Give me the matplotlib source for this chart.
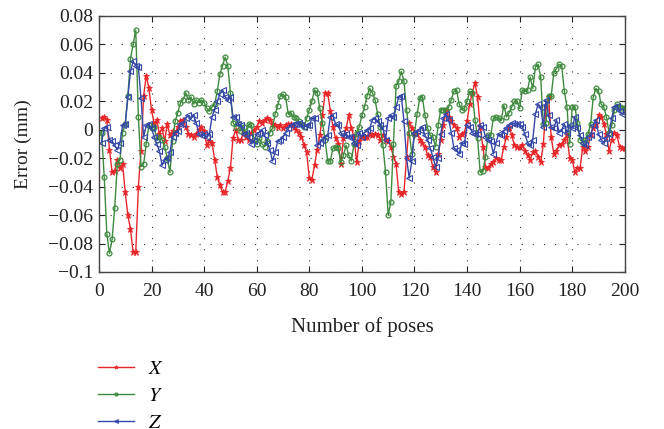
import numpy as np
import matplotlib
matplotlib.use('Agg')
import matplotlib.pyplot as plt

# pose index 1..200
poses = np.arange(1, 201)

err_x = [0.008, 0.009, 0.007, -0.014, -0.030, -0.029, -0.021, -0.027, -0.024, -0.044,
         -0.060, -0.070, -0.086, -0.086, -0.040, -0.015, 0.024, 0.038, 0.029, 0.014,
         0.004, 0.007, -0.003, 0.001, -0.008, 0.004, -0.004, -0.001, -0.002, 0.002,
         0.006, 0.007, 0.002, -0.003, -0.004, -0.005, -0.003, 0.000, 0.002, -0.001,
         -0.011, -0.008, -0.009, -0.021, -0.033, -0.039, -0.044, -0.044, -0.036, -0.027,
         -0.006, 0.000, -0.007, -0.007, -0.002, -0.005, -0.007, -0.002, 0.000, 0.002,
         0.006, 0.005, 0.007, 0.008, 0.007, 0.004, 0.003, 0.002, 0.003, 0.001,
         0.003, 0.004, 0.004, 0.002, 0.000, -0.002, -0.005, -0.011, -0.016, -0.034,
         -0.035, -0.025, -0.014, -0.004, 0.010, 0.026, 0.026, 0.013, 0.002, -0.006,
         -0.010, -0.024, -0.006, 0.001, 0.010, 0.001, -0.005, -0.023, -0.008, -0.005,
         -0.005, -0.005, -0.003, -0.004, -0.003, -0.004, -0.007, -0.004, -0.007, -0.008,
         -0.012, -0.019, -0.024, -0.044, -0.045, -0.044, -0.019, 0.005, 0.001, -0.002,
         -0.003, -0.007, -0.009, -0.012, -0.018, -0.019, -0.026, -0.030, -0.017, -0.007,
         0.003, 0.013, 0.009, 0.006, 0.003, 0.001, -0.005, -0.003, -0.002, 0.006,
         0.018, 0.026, 0.033, 0.023, 0.002, -0.012, -0.026, -0.027, -0.024, -0.023,
         -0.020, -0.021, -0.021, -0.012, -0.005, 0.002, -0.004, -0.011, -0.012, -0.012,
         -0.011, -0.015, -0.018, -0.021, -0.016, -0.015, -0.019, -0.023, -0.010, 0.016,
         0.023, -0.005, -0.017, -0.015, -0.011, -0.010, -0.007, -0.004, -0.020, -0.021,
         -0.030, -0.027, -0.027, -0.012, -0.015, -0.012, -0.003, 0.001, 0.004, 0.010,
         0.009, 0.004, -0.003, -0.015, -0.007, -0.002, -0.004, -0.012, -0.013, -0.013]

err_y = [-0.002, -0.033, -0.073, -0.087, -0.077, -0.055, -0.024, -0.021, -0.002, 0.004,
         0.024, 0.050, 0.060, 0.070, 0.009, -0.026, -0.024, -0.010, 0.003, 0.001,
         0.002, -0.007, -0.005, -0.007, -0.012, -0.020, -0.030, -0.008, 0.006, 0.012,
         0.019, 0.021, 0.026, 0.021, 0.023, 0.018, 0.021, 0.019, 0.021, 0.019,
         0.015, 0.013, 0.016, 0.018, 0.027, 0.039, 0.045, 0.051, 0.045, 0.026,
         0.005, 0.002, 0.005, -0.001, 0.002, -0.003, 0.004, 0.003, -0.007, -0.010,
         -0.006, -0.010, -0.012, -0.008, -0.002, 0.001, 0.011, 0.017, 0.024, 0.025,
         0.023, 0.011, 0.012, 0.009, 0.008, 0.006, 0.004, 0.002, 0.008, 0.014,
         0.020, 0.028, 0.026, 0.015, 0.005, -0.007, -0.022, -0.022, -0.013, -0.012,
         -0.013, -0.023, -0.018, -0.011, -0.018, -0.022, -0.010, -0.002, 0.002, 0.010,
         0.016, 0.024, 0.029, 0.026, 0.021, 0.011, 0.002, -0.011, -0.030, -0.060,
         -0.051, -0.010, 0.031, 0.034, 0.041, 0.034, 0.014, -0.002, -0.017, -0.003,
         0.011, 0.022, 0.023, 0.010, 0.001, -0.004, -0.005, -0.012, 0.003, 0.014,
         0.014, 0.014, 0.016, 0.021, 0.027, 0.028, 0.018, 0.014, 0.015, 0.020,
         0.027, 0.026, 0.007, -0.006, -0.030, -0.029, -0.019, -0.004, -0.004, 0.008,
         0.009, 0.008, 0.007, 0.017, 0.009, 0.012, 0.016, 0.020, 0.020, 0.015,
         0.028, 0.027, 0.028, 0.037, 0.029, 0.044, 0.046, 0.037, 0.004, 0.005,
         0.024, 0.024, 0.040, 0.043, 0.046, 0.045, 0.027, 0.016, -0.010, 0.016,
         0.016, 0.005, -0.007, -0.009, -0.007, -0.003, 0.004, 0.023, 0.029, 0.027,
         0.018, 0.016, 0.009, -0.002, 0.003, 0.014, 0.018, 0.016, 0.015, 0.015]

err_z = [-0.009, 0.001, 0.002, -0.007, -0.008, -0.011, -0.014, -0.009, 0.003, 0.004,
         0.023, 0.041, 0.048, 0.045, 0.044, 0.022, -0.005, 0.003, 0.004, 0.001,
         -0.005, -0.010, -0.015, -0.025, -0.021, -0.020, -0.016, -0.005, -0.002, -0.001,
         0.004, 0.004, 0.008, 0.010, 0.008, 0.010, 0.005, -0.003, -0.004, -0.003,
         -0.005, -0.003, 0.009, 0.014, 0.020, 0.025, 0.028, 0.023, 0.021, 0.023,
         0.009, 0.009, 0.004, 0.003, -0.003, -0.002, -0.005, -0.010, -0.008, -0.003,
         -0.002, 0.000, -0.004, -0.009, -0.014, -0.022, -0.016, -0.008, -0.007, -0.005,
         -0.002, 0.001, 0.003, 0.004, 0.004, 0.005, 0.003, 0.002, 0.003, 0.003,
         0.008, 0.008, -0.011, -0.009, -0.007, -0.005, -0.004, 0.009, 0.010, 0.004,
         0.003, -0.002, -0.004, -0.003, -0.005, -0.005, -0.009, -0.011, -0.002, -0.005,
         -0.002, 0.000, 0.001, 0.007, 0.008, 0.006, 0.003, 0.001, -0.007, 0.008,
         0.010, 0.009, 0.016, 0.023, 0.024, 0.006, -0.020, -0.034, -0.022, -0.002,
         -0.001, 0.000, 0.002, -0.004, -0.007, -0.013, -0.019, -0.026, -0.020, -0.003,
         0.008, 0.011, 0.007, -0.002, -0.013, -0.014, -0.017, -0.009, -0.010, 0.003,
         0.002, -0.002, -0.003, -0.003, 0.003, 0.002, -0.005, -0.007, -0.008, -0.017,
         -0.009, -0.003, -0.004, -0.001, 0.001, 0.003, 0.005, 0.004, 0.004, 0.004,
         0.002, -0.003, -0.009, -0.011, -0.007, 0.011, 0.018, 0.016, 0.002, 0.021,
         0.010, 0.002, 0.001, 0.007, -0.002, 0.000, 0.004, -0.002, 0.003, 0.001,
         0.009, 0.001, -0.004, -0.009, -0.011, -0.005, -0.004, 0.003, 0.007, -0.003,
         -0.007, -0.009, -0.006, -0.003, 0.008, 0.016, 0.017, 0.013, 0.011, 0.012]

x_ticks = [0, 20, 40, 60, 80, 100, 120, 140, 160, 180, 200]
y_ticks = [-0.1, -0.08, -0.06, -0.04, -0.02, 0, 0.02, 0.04, 0.06, 0.08]
y_labels = ['\u22120.1', '\u22120.08', '\u22120.06', '\u22120.04', '\u22120.02',
            '0', '0.02', '0.04', '0.06', '0.08']

plt.rcParams['font.family'] = ['Liberation Serif', 'DejaVu Serif']
plt.rcParams['mathtext.fontset'] = 'stix'

fig = plt.figure(figsize=(6.64, 4.29), dpi=100)
ax = fig.add_axes([0.149, 0.366, 0.792, 0.597])

red = '#e8262a'
green = '#3e8a3e'
blue = '#3548a8'

lx, = ax.plot(poses, err_x, color=red, lw=1.0, marker='*', ms=4.5,
              markeredgewidth=0.6)
ly, = ax.plot(poses, err_y, color=green, lw=1.0, marker='o', ms=3.5,
              markerfacecolor='none', markeredgewidth=0.9)
lz, = ax.plot(poses, err_z, color=blue, lw=1.0, marker='<', ms=4.5,
              markerfacecolor='none', markeredgewidth=0.8)

ax.set_xlim(0, 200)
ax.set_ylim(-0.1, 0.08)
ax.set_xticks(x_ticks)
ax.set_yticks(y_ticks)
ax.set_yticklabels(y_labels)
ax.tick_params(direction='in', top=True, right=True, labelsize=14,
               length=4, width=0.8, colors='#222222', pad=4)
ax.tick_params(axis='x', pad=8)
ax.grid(True, color='#333333', linestyle=(0, (1, 9)), linewidth=0.8)
for s in ax.spines.values():
    s.set_linewidth(1.0)
    s.set_color('#444444')

ax.set_xlabel('Number of poses', fontsize=15, color='#222222', labelpad=12)
ax.set_ylabel('Error (mm)', fontsize=14, color='#222222', labelpad=12)

fig.legend([lx, ly, lz], ['$X$', '$Y$', '$Z$'], loc='upper left',
           bbox_to_anchor=(0.121, 0.203), frameon=False, fontsize=14.5,
           handlelength=1.74, handletextpad=0.7, labelspacing=0.38,
           markerscale=0.6)

fig.savefig('out.png', dpi=100)
